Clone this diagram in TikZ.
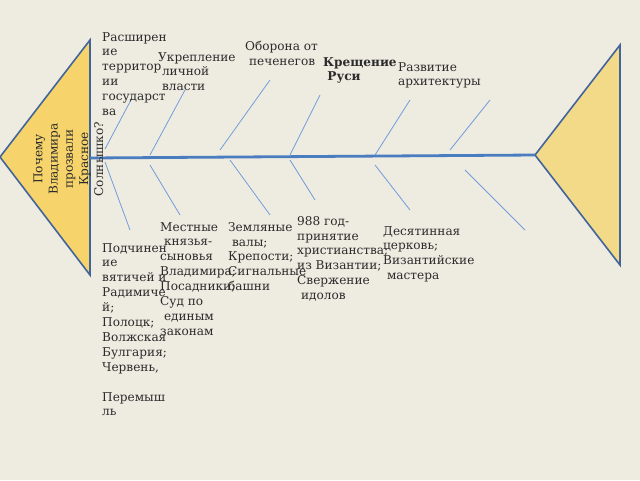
\documentclass[tikz,border=0pt]{standalone}
\usepackage{fontspec}
\setmainfont{DejaVu Serif}
\definecolor{bg}{HTML}{EEEBE1}
\definecolor{headfill}{HTML}{F7D46B}
\definecolor{tailfill}{HTML}{F3DA88}
\definecolor{edge}{HTML}{41659A}
\definecolor{spinec}{HTML}{4A7CC0}
\definecolor{bonec}{HTML}{729DDA}
\definecolor{txt}{HTML}{2B2B2B}
\tikzset{
  fishend/.style={draw=edge, line width=1.6pt, line join=miter},
  spine/.style={draw=spinec, line width=2.8pt},
  bone/.style={draw=bonec, line width=0.8pt},
  lbl/.style={anchor=north west, inner sep=0pt, align=left, text=txt,
    font=\fontsize{12.1}{14.9}\selectfont},
}
\begin{document}
\begin{tikzpicture}[x=1pt,y=-1pt]
\useasboundingbox[fill=bg] (0,0) rectangle (640,480);
% head and tail
\coordinate (headapex) at (0,157);
\coordinate (headtop) at (90,40);
\coordinate (headbot) at (90,275);
\coordinate (tailapex) at (535,155);
\coordinate (tailtop) at (620,45);
\coordinate (tailbot) at (620,265);
\path[fishend, fill=headfill] (headapex) -- (headtop) -- (headbot) -- cycle;
\path[fishend, fill=tailfill] (tailapex) -- (tailtop) -- (tailbot) -- cycle;
% spine
\coordinate (spineA) at (90,158);
\draw[spine] (spineA) -- (tailapex);
% upper bones
\draw[bone] (105,149) -- (132,98);
\draw[bone] (150,155) -- (185,90);
\draw[bone] (220,150) -- (270,80);
\draw[bone] (290,155) -- (320,95);
\draw[bone] (375,155) -- (410,100);
\draw[bone] (450,150) -- (490,100);
% lower bones
\draw[bone] (105,162) -- (130,230);
\draw[bone] (150,165) -- (180,215);
\draw[bone] (230,160) -- (270,215);
\draw[bone] (290,160) -- (315,200);
\draw[bone] (375,165) -- (410,210);
\draw[bone] (465,170) -- (525,230);
% question
\node[rotate=90, inner sep=0pt, align=center, text=txt,
  font=\fontsize{12.1}{15.2}\selectfont] (question) at (68.5,159)
  {Почему\\Владимира\\прозвали\\Красное\\Солнышко?};
% upper labels
\node[lbl] (territory) at (102,32) {Расширен\\ие\\территор\\ии\\государст\\ва};
\node[lbl] (power) at (158,52) {Укрепление\\\ личной\\\ власти};
\node[lbl] (defence) at (245,41) {Оборона от\\\ печенегов};
\node[lbl, font=\fontsize{12.1}{14.9}\selectfont\bfseries] (baptism) at (323,57) {Крещение\\\ Руси};
\node[lbl] (archi) at (398,62) {Развитие\\архитектуры};
% lower labels
\node[lbl] (subj) at (102,243) {Подчинен\\ие\\вятичей и\\Радимиче\\й;\\Полоцк;\\Волжская\\Булгария;\\Червень,\\[14.9pt]Перемыш\\ль};
\node[lbl] (princes) at (160,222) {Местные\\\ князья-\\сыновья\\Владимира;\\Посадники;\\Суд по\\\ единым\\законам};
\node[lbl] (walls) at (228,222) {Земляные\\\ валы;\\Крепости;\\Сигнальные\\башни};
\node[lbl] (year) at (297,216) {988 год-\\принятие\\христианства;\\из Византии;\\Свержение\\\ идолов};
\node[lbl] (church) at (383,226) {Десятинная\\церковь;\\Византийские\\\ мастера};
\end{tikzpicture}
\end{document}
